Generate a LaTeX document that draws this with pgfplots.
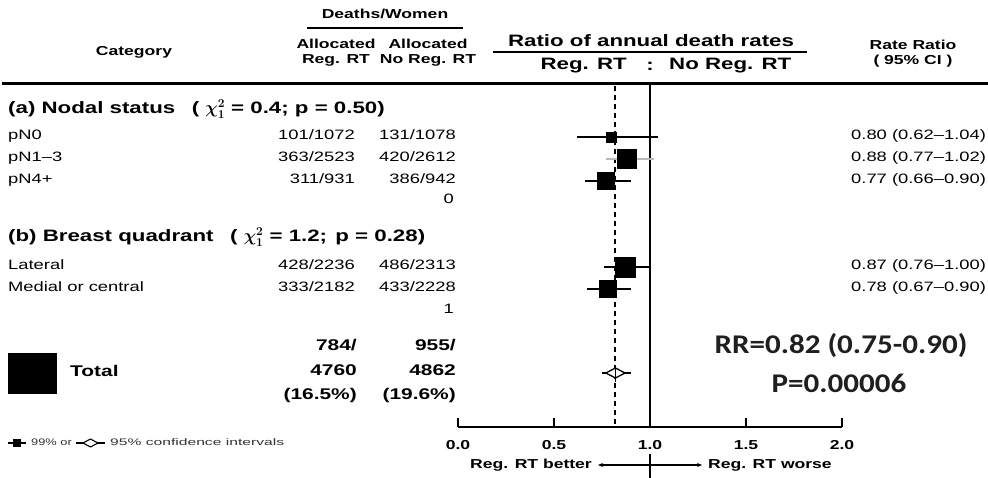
\documentclass[border=0pt]{standalone}
\usepackage{fontspec}
\setmainfont[FakeStretch=1.35]{Liberation Sans}
\newfontfamily\rrfont[FakeStretch=1.15]{Carlito}
\usepackage{pgfplots}
\pgfplotsset{compat=1.18}
\usepackage{pgfplotstable}
\usetikzlibrary{arrows.meta}

% pixel column -> ratio scale (1.0 at x=650, 192 px per unit)
\newcommand{\px}[1]{((#1)-458)/192}
\newcommand{\fr}{\fontsize{13.6}{15}\selectfont}
\newcommand{\fh}{\fontsize{13}{15}\selectfont\bfseries}
\newcommand{\fb}{\fontsize{16.5}{19}\selectfont\bfseries\boldmath}
\newcommand{\ft}{\fontsize{15.5}{18}\selectfont\bfseries}

% subgroup rate ratios: row (px from top), RR, lower, upper, box half-size
\pgfplotstableread{
y    rr    lo    hi    sz
137  0.80  0.62  1.04  5
159  0.88  0.77  1.02  9.5
181  0.77  0.66  0.90  8.5
267  0.87  0.76  1.00  10
289  0.78  0.67  0.90  8.5
}\subgroups

\begin{document}
\begin{tikzpicture}
\begin{axis}[
  name=ax,
  scale only axis,
  width=988pt, height=478pt,
  xmin=-2.3854, xmax=2.7604,
  ymin=0, ymax=478,
  y dir=reverse,
  hide axis,
  clip=false,
]
  % header
  \node[font=\fh] at (axis cs:{\px{385}},14) {Deaths/Women};
  \draw[line width=1.5pt] (axis cs:{\px{307}},28) -- (axis cs:{\px{463}},28);
  \node[font=\fh] at (axis cs:{\px{134}},52) {Category};
  \node[font=\fh] at (axis cs:{\px{336}},44) {Allocated};
  \node[font=\fh] at (axis cs:{\px{336}},60) {Reg. RT};
  \node[font=\fh] at (axis cs:{\px{428}},44) {Allocated};
  \node[font=\fh] at (axis cs:{\px{428}},60) {No Reg. RT};
  \node[font=\fb] at (axis cs:{\px{651}},41) {Ratio of annual death rates};
  \draw[line width=1.5pt] (axis cs:{\px{493}},52) -- (axis cs:{\px{807}},52);
  \node[font=\fb, anchor=mid east, inner sep=0] at (axis cs:{\px{627}},67) {Reg. RT};
  \node[font=\fb] at (axis cs:{\px{650}},66) {:};
  \node[font=\fb, anchor=mid west, inner sep=0] at (axis cs:{\px{669}},67) {No Reg. RT};
  \node[font=\fh] at (axis cs:{\px{913}},45) {Rate Ratio};
  \node[font=\fh] at (axis cs:{\px{913}},61) {( 95\% CI )};
  \draw[line width=3pt] (axis cs:{\px{2}},84) -- (axis cs:{\px{988}},84);

  % reference lines
  \draw[line width=2.2pt] (axis cs:1,84) -- (axis cs:1,427);
  \addplot[black, line width=2pt, dash pattern=on 5pt off 4pt] coordinates {(0.82,86) (0.82,427)};

  % section (a)
  \node[font=\fb, anchor=mid west, inner sep=0] at (axis cs:{\px{8}},111)
    {(a) Nodal status\quad( $\chi^2_1$ = 0.4; p = 0.50)};
  \node[font=\fr, anchor=mid west, inner sep=0] at (axis cs:{\px{8}},137) {pN0};
  \node[font=\fr, anchor=mid west, inner sep=0] at (axis cs:{\px{8}},159) {pN1–3};
  \node[font=\fr, anchor=mid west, inner sep=0] at (axis cs:{\px{8}},181) {pN4+};
  \node[font=\fr, anchor=mid east, inner sep=0] at (axis cs:{\px{355}},137) {101/1072};
  \node[font=\fr, anchor=mid east, inner sep=0] at (axis cs:{\px{355}},159) {363/2523};
  \node[font=\fr, anchor=mid east, inner sep=0] at (axis cs:{\px{355}},181) {311/931};
  \node[font=\fr, anchor=mid east, inner sep=0] at (axis cs:{\px{456}},137) {131/1078};
  \node[font=\fr, anchor=mid east, inner sep=0] at (axis cs:{\px{456}},159) {420/2612};
  \node[font=\fr, anchor=mid east, inner sep=0] at (axis cs:{\px{456}},181) {386/942};
  \node[font=\fr, anchor=mid east, inner sep=0] at (axis cs:{\px{454}},201) {0};
  \node[font=\fr, anchor=mid west, inner sep=0] at (axis cs:{\px{851}},137) {0.80 (0.62–1.04)};
  \node[font=\fr, anchor=mid west, inner sep=0] at (axis cs:{\px{851}},159) {0.88 (0.77–1.02)};
  \node[font=\fr, anchor=mid west, inner sep=0] at (axis cs:{\px{851}},181) {0.77 (0.66–0.90)};

  % section (b)
  \node[font=\fb, anchor=mid west, inner sep=0] at (axis cs:{\px{8}},239)
    {(b) Breast quadrant\quad( $\chi^2_1$ = 1.2;\enspace p = 0.28)};
  \node[font=\fr, anchor=mid west, inner sep=0] at (axis cs:{\px{8}},267) {Lateral};
  \node[font=\fr, anchor=mid west, inner sep=0] at (axis cs:{\px{8}},289) {Medial or central};
  \node[font=\fr, anchor=mid east, inner sep=0] at (axis cs:{\px{355}},267) {428/2236};
  \node[font=\fr, anchor=mid east, inner sep=0] at (axis cs:{\px{355}},289) {333/2182};
  \node[font=\fr, anchor=mid east, inner sep=0] at (axis cs:{\px{456}},267) {486/2313};
  \node[font=\fr, anchor=mid east, inner sep=0] at (axis cs:{\px{456}},289) {433/2228};
  \node[font=\fr, anchor=mid east, inner sep=0] at (axis cs:{\px{454}},311) {1};
  \node[font=\fr, anchor=mid west, inner sep=0] at (axis cs:{\px{851}},267) {0.87 (0.76–1.00)};
  \node[font=\fr, anchor=mid west, inner sep=0] at (axis cs:{\px{851}},289) {0.78 (0.67–0.90)};

  % confidence intervals and boxes
  \addplot[only marks, mark=none,
    error bars/.cd, x dir=both, x explicit, error mark=none,
    error bar style={black, line width=1.1pt}]
    table[x=rr, y=y,
      x error plus expr=\thisrow{hi}-\thisrow{rr},
      x error minus expr=\thisrow{rr}-\thisrow{lo}]{\subgroups};
  \addplot[gray!55, line width=1.1pt] coordinates {(0.77,159) (1.02,159)};
  \addplot[scatter, only marks, mark=square*,
    scatter/use mapped color={draw=black, fill=black},
    visualization depends on={\thisrow{sz}\as\msz},
    scatter/@pre marker code/.append style={/tikz/mark size=\msz}]
    table[x=rr, y=y]{\subgroups};

  % total
  \fill (axis cs:{\px{8}},353) rectangle (axis cs:{\px{57}},394);
  \node[font=\ft, anchor=mid west, inner sep=0] at (axis cs:{\px{70}},374) {Total};
  \node[font=\ft, anchor=mid east, inner sep=0] at (axis cs:{\px{357}},348) {784/};
  \node[font=\ft, anchor=mid east, inner sep=0] at (axis cs:{\px{357}},373) {4760};
  \node[font=\ft, anchor=mid east, inner sep=0] at (axis cs:{\px{357}},397) {(16.5\%)};
  \node[font=\ft, anchor=mid east, inner sep=0] at (axis cs:{\px{456}},348) {955/};
  \node[font=\ft, anchor=mid east, inner sep=0] at (axis cs:{\px{456}},373) {4862};
  \node[font=\ft, anchor=mid east, inner sep=0] at (axis cs:{\px{456}},397) {(19.6\%)};
  \addplot[black, line width=1.3pt] coordinates {(0.75,373) (0.90,373)};
  \addplot[black, fill=white, line width=1.3pt] coordinates {(0.77,373) (0.82,368) (0.87,373) (0.82,378)} -- cycle;
  \addplot[black, line width=1.3pt] coordinates {(0.82,365) (0.82,382)};

  \node[font=\rrfont\fontsize{27}{30}\selectfont\bfseries, text=black!88] at (axis cs:{\px{841}},346) {RR=0.82 (0.75-0.90)};
  \node[font=\rrfont\fontsize{27}{30}\selectfont\bfseries, text=black!88] at (axis cs:{\px{839}},383) {P=0.00006};

  % ratio axis
  \draw[line width=2pt] (axis cs:0,427) -- (axis cs:2,427);
  \pgfplotsinvokeforeach{0,0.5,1,1.5,2}{
    \draw[line width=1.6pt] (axis cs:#1,427) -- (axis cs:#1,418);
  }
  \node[font=\fh] at (axis cs:0,445) {0.0};
  \node[font=\fh] at (axis cs:0.5,445) {0.5};
  \node[font=\fh] at (axis cs:1,445) {1.0};
  \node[font=\fh] at (axis cs:1.5,445) {1.5};
  \node[font=\fh] at (axis cs:2,445) {2.0};
  \node[font=\fh, anchor=mid east, inner sep=0] at (axis cs:{\px{592}},466) {Reg. RT better};
  \node[font=\fh, anchor=mid west, inner sep=0] at (axis cs:{\px{708}},466) {Reg. RT worse};
  \draw[line width=1.2pt, -{Stealth[length=5pt,width=4pt]}] (axis cs:1,465) -- (axis cs:{\px{598}},465);
  \draw[line width=1.2pt, -{Stealth[length=5pt,width=4pt]}] (axis cs:1,465) -- (axis cs:{\px{702}},465);
  \draw[line width=1.6pt] (axis cs:1,454) -- (axis cs:1,478);

  % key
  \draw[line width=1.2pt] (axis cs:{\px{8}},443) -- (axis cs:{\px{26}},443);
  \fill (axis cs:{\px{13}},439) rectangle (axis cs:{\px{21}},447);
  \node[font=\fontsize{9.5}{11}\selectfont, text=black!80, anchor=mid west, inner sep=0] at (axis cs:{\px{31}},443) {99\% or};
  \draw[line width=1.2pt] (axis cs:{\px{76}},443) -- (axis cs:{\px{105}},443);
  \draw[line width=1.1pt, fill=white] (axis cs:{\px{83}},443) -- (axis cs:{\px{90.5}},439)
    -- (axis cs:{\px{98}},443) -- (axis cs:{\px{90.5}},447) -- cycle;
  \node[font=\fontsize{9.5}{11}\selectfont, text=black!80, anchor=mid west, inner sep=0] at (axis cs:{\px{110}},443) {\scalebox{1.22}[1]{95\% confidence intervals}};
\end{axis}
\pgfresetboundingbox
\useasboundingbox (ax.south west) rectangle (ax.north east);
\end{tikzpicture}
\end{document}
